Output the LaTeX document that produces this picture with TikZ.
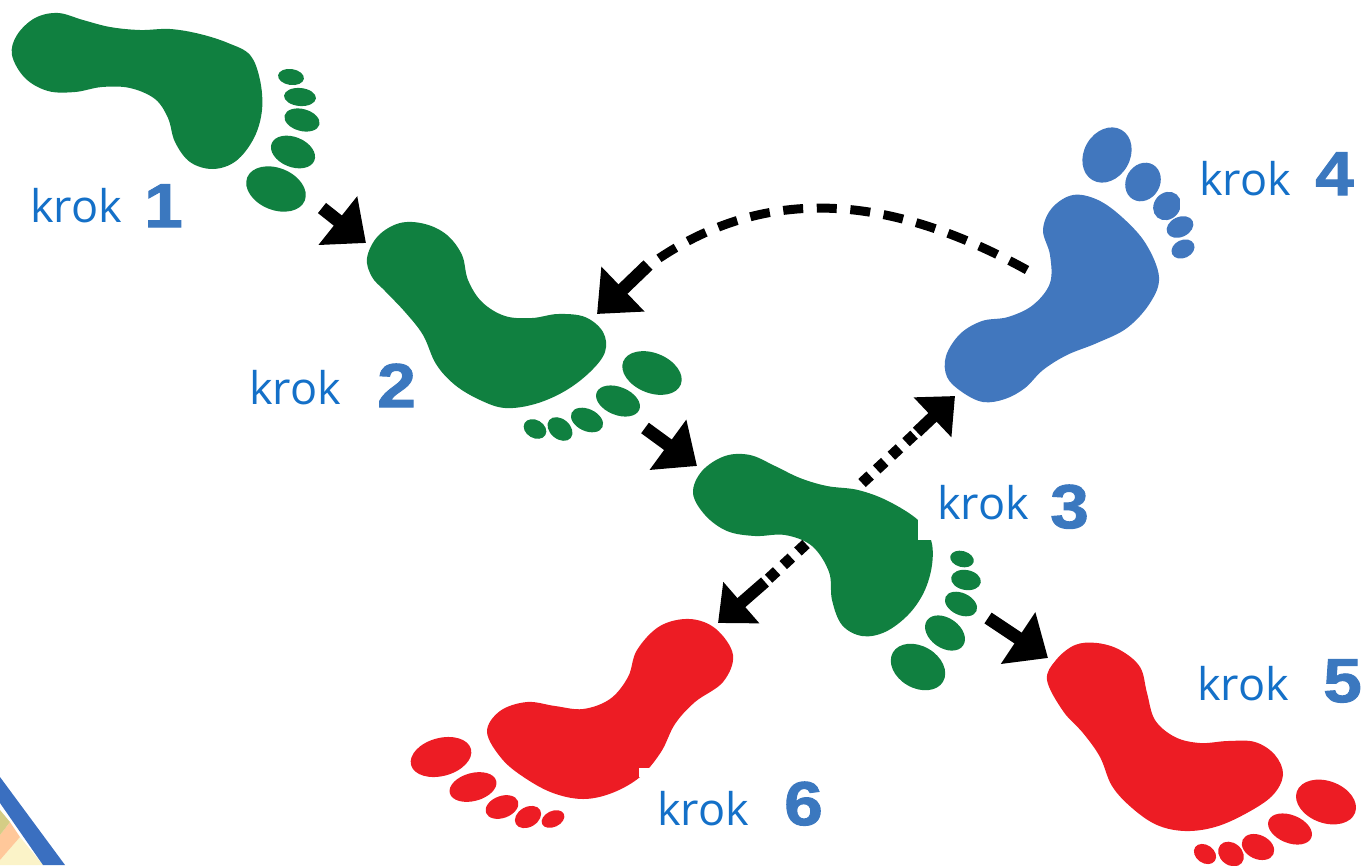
\documentclass[tikz,border=0pt]{standalone}
\usepackage{fontspec}
\setmainfont{Open Sans}
\newfontfamily\numfont[BoldFeatures={FakeBold=1.6,FakeStretch=1.12}]{Liberation Sans}
\usetikzlibrary{arrows.meta}
\definecolor{footgreen}{HTML}{108040}
\definecolor{footblue}{HTML}{4177BE}
\definecolor{footred}{HTML}{ED1C24}
\definecolor{kroktext}{HTML}{1470C8}
\definecolor{numtext}{HTML}{3B78BF}
\definecolor{cornerband}{HTML}{3A6FC0}
\definecolor{cornerpeach}{HTML}{FFC89A}
\definecolor{cornerolive}{HTML}{D5CD85}
\definecolor{corneryellow}{HTML}{FBF3C8}
\tikzset{
  kroklabel/.style={text=kroktext,font=\fontsize{45}{45}\selectfont,inner sep=0pt,anchor=base west},
  numlabel/.style={text=numtext,font=\numfont\bfseries\fontsize{62}{62}\selectfont,inner sep=0pt,anchor=base west},
  steparrow/.style={line width=13pt,-{Triangle[length=36pt,width=60pt]}},
  smallarrow/.style={line width=12pt,-{Triangle[length=31pt,width=53pt]}},
  dashpart/.style={line width=11pt,dash pattern=on 11pt off 9pt},
  footshape/.style={smooth cycle,tension=0.6}
}
\begin{document}
\begin{tikzpicture}[x=1pt,y=-1pt]
  \useasboundingbox (0,0) rectangle (1364,865);

  %corner
  \fill[corneryellow] (0,865)--(43,865)--(20,837)--(0,860)--cycle;
  \fill[cornerpeach] (10,822)--(20,837)--(0,860)--(0,835)--cycle;
  \fill[cornerolive] (0,810)--(10,822)--(0,835)--cycle;
  \fill[cornerband] (0,777)--(65,865)--(43,865)--(0,803)--cycle;

  %feet
  \fill[footgreen] plot[footshape] coordinates {(12,55) (17,35) (35,18) (58,13) (83,20) (110,27) (140,30) (170,29) (200,34) (228,43) (250,55) (260,80) (262,110) (254,138) (236,161) (213,169) (190,162) (175,142) (168,118) (155,99) (130,88) (102,87) (75,92) (48,91) (25,78)};
  \fill[footgreen] plot[footshape] coordinates {(367,258) (378,236) (400,223) (425,224) (447,235) (462,255) (468,280) (482,302) (505,316) (532,318) (558,314) (585,317) (603,332) (605,352) (590,372) (565,391) (535,404) (505,408) (480,400) (455,385) (436,364) (423,335) (405,312) (385,291) (372,277)};
  \fill[footgreen] plot[footshape] coordinates {(693,493) (702,471) (725,456) (750,455) (775,466) (800,478) (827,486) (858,490) (888,501) (918,520) (931,540) (932,565) (924,592) (908,615) (885,632) (862,636) (842,625) (832,600) (829,572) (812,546) (785,535) (755,536) (727,531) (705,515)};
  \fill[white] (918,520) rectangle (936,540);
  \fill[footblue] plot[footshape] coordinates {(1043,230) (1052,208) (1073,195) (1098,200) (1123,218) (1146,244) (1159,277) (1150,303) (1127,328) (1097,343) (1067,355) (1043,370) (1025,388) (1005,399) (983,402) (962,392) (947,377) (946,356) (960,334) (982,321) (1008,317) (1033,305) (1050,283) (1050,255)};
  \fill[footred] plot[footshape] coordinates {(1047,680) (1056,660) (1075,645) (1097,643) (1120,650) (1140,667) (1147,693) (1155,720) (1175,737) (1200,743) (1228,741) (1255,742) (1275,755) (1283,775) (1272,796) (1245,814) (1215,827) (1185,831) (1157,825) (1132,808) (1112,786) (1100,757) (1083,733) (1063,711)};
  \fill[footred] plot[footshape] coordinates {(487,732) (500,711) (527,702) (555,706) (583,709) (610,699) (628,677) (637,650) (660,626) (690,619) (716,629) (733,655) (723,682) (695,702) (675,724) (661,752) (640,777) (612,793) (583,799) (553,793) (525,778) (502,759)};
  \fill[white] (639,768) rectangle (652,777);

  %toes
  \foreach \cx/\cy/\rx/\ry/\rot in {291/77/13/8/8,300/97/16/9/5,302/120/18/11/15,293/152/23/15/22,276/189/31/21/22,
      652/373/31/20/22,618/401/23/14/22,587/420/17/11/25,560/429/14/10/40,535/429/12/9/30,
      962/559/12/8/15,966/580/15/10/10,961/604/17/11/25,945/633/22/15/35,918/667/29/21/30}{
    \fill[footgreen,rotate around={-\rot:(\cx,\cy)}] (\cx,\cy) ellipse [x radius=\rx,y radius=\ry];
  }
  \foreach \cx/\cy/\rx/\ry/\rot in {1107/155/29/23/-60,1143/182/20/17/-60,1167/206/15/13/-50,1180/227/14/10/-25,1183/249/12/9/-25}{
    \fill[footblue,rotate around={-\rot:(\cx,\cy)}] (\cx,\cy) ellipse [x radius=\rx,y radius=\ry];
  }
  \fill[white] (1180,190) rectangle (1198,215);
  \foreach \cx/\cy/\rx/\ry/\rot in {1326/802/31/21/20,1290/829/23/14/22,1258/847/17/12/25,1231/854/14/11/40,1205/854/12/9/35,
      441/757/31/19/-15,473/787/24/14/-15,502/807/17/11/-20,528/817/14/10/-30,553/819/12/8/-25}{
    \fill[footred,rotate around={-\rot:(\cx,\cy)}] (\cx,\cy) ellipse [x radius=\rx,y radius=\ry];
  }

  %arrow ends
  \coordinate (a1) at (322,208);
  \coordinate (b1) at (366,243);
  \coordinate (a2) at (645,428);
  \coordinate (b2) at (697,466);
  \coordinate (a5) at (988,618);
  \coordinate (b5) at (1048,658);
  \coordinate (d4) at (862,483);
  \coordinate (m4) at (917,432);
  \coordinate (b4) at (955,396);
  \coordinate (d6) at (806,544);
  \coordinate (m6) at (765,582);
  \coordinate (b6) at (718,623);
  \coordinate (d2) at (1027,270);
  \coordinate (e2) at (655,261);
  \coordinate (m2) at (648,265);
  \coordinate (b3) at (597,314);

  \draw[steparrow] (a1)--(b1);
  \draw[steparrow] (a2)--(b2);
  \draw[steparrow] (a5)--(b5);
  \draw[dashpart] (d4)--(m4);
  \draw[smallarrow] (m4)--(b4);
  \draw[dashpart] (d6)--(m6);
  \draw[smallarrow] (m6)--(b6);
  \draw[line width=9pt,dash pattern=on 20pt off 13.6pt] (d2) .. controls (880,189) and (760,189) .. (e2);
  \draw[steparrow] (m2)--(b3);

  %labels
  \node[kroklabel] (krok1) at (30,222) {krok};
  \node[numlabel] (num1) at (144,227) {1};
  \node[kroklabel] (krok2) at (249,404) {krok};
  \node[numlabel] (num2) at (377,407) {2};
  \node[kroklabel] (krok3) at (937,519) {krok};
  \node[numlabel] (num3) at (1050,528) {3};
  \node[kroklabel] (krok4) at (1199,195) {krok};
  \node[numlabel] (num4) at (1315,195) {4};
  \node[kroklabel] (krok5) at (1197,700) {krok};
  \node[numlabel] (num5) at (1323,702) {5};
  \node[kroklabel] (krok6) at (657,825) {krok};
  \node[numlabel] (num6) at (784,825) {6};
\end{tikzpicture}
\end{document}
